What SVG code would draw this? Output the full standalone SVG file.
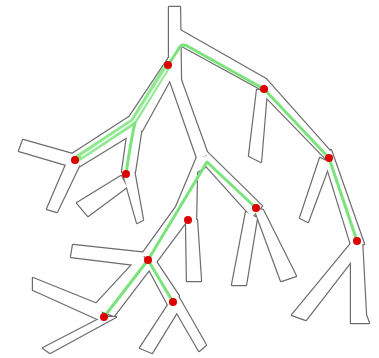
<svg xmlns="http://www.w3.org/2000/svg" xmlns:xlink="http://www.w3.org/1999/xlink" width="379" height="358" viewBox="0 0 379 358">
  <style>
    .rim { fill: none; stroke: #6c6c6c; stroke-width: 2.4; stroke-linejoin: round; }
    .body { fill: #ffffff; stroke: none; }
    .path { fill: none; stroke: #7be37b; stroke-width: 3; stroke-linecap: round; stroke-linejoin: round; }
    .path-wide { fill: none; stroke: #8fe88f; stroke-width: 7; stroke-linecap: round; stroke-linejoin: round; }
    .path-core { fill: none; stroke: #e4fae4; stroke-width: 2; stroke-linecap: round; stroke-linejoin: round; }
    .dot { fill: #dc0000; }
  </style>
  <defs>
    <!-- branch segments; drawn twice (rim, then body) so only the outer contour stays visible -->
    <g id="branches">
      <polygon points="169,7 180,7 181,82 169,80"/>
      <polygon points="180,30 266,79 264,91 180,45"/>
      <polygon points="266,79 331,152 327,160 261,92"/>
      <polygon points="331,150 364,244 351,245 325,161"/>
      <polygon points="257,90 267,90 261,162 249,156"/>
      <polygon points="320,158 330,163 308,222 300,218"/>
      <polygon points="351,243 362,240 366,315 369,323 351,323"/>
      <polygon points="353,241 360,250 306,320 292,315"/>
      <polygon points="170,56 180,62 142,131 128,119"/>
      <polygon points="129,117 142,128 80,166 72,154"/>
      <polygon points="76,155 23,140 19,151 70,166"/>
      <polygon points="68,160 80,164 57,212 47,209"/>
      <polygon points="129,122 142,126 135,172 122,172"/>
      <polygon points="122,170 134,170 143,220 137,223"/>
      <polygon points="121,176 127,187 88,216 77,203"/>
      <polygon points="169,78 181,80 208,155 197,158"/>
      <polygon points="197,157 207,156 207,166 197,172 196,222 186,222 154,265 142,254 176,207"/>
      <polygon points="207,152 262,206 252,217 207,167"/>
      <polygon points="186,220 197,220 201,281 187,281"/>
      <polygon points="246,212 257,218 246,285 232,285"/>
      <polygon points="254,208 263,210 296,276 281,281"/>
      <polygon points="147,253 73,245 71,257 136,265"/>
      <polygon points="141,255 153,265 114,316 92,308"/>
      <polygon points="100,305 33,278 33,290 104,322"/>
      <polygon points="103,317 116,317 50,353 43,348"/>
      <polygon points="145,262 155,260 179,296 168,305"/>
      <polygon points="170,302 179,309 152,353 140,348"/>
      <polygon points="170,300 178,296 206,345 199,351 177,313"/>
    </g>
  </defs>

  <g id="tree">
    <use xlink:href="#branches" class="rim"/>
    <use xlink:href="#branches" class="body"/>
  </g>

  <g id="connectors">
    <path class="path-wide" d="M168,65 L133,122 L75,160"/>
    <path class="path-core" d="M166,70 L134,121 L82,156"/>
    <path class="path" d="M357,241 L329,158 L264,89 L189,47 Q181,42 178,50 L168,65"/>
    <path class="path" d="M135,123 Q131,140 126,174"/>
    <path class="path" d="M256,208 L207,162 L148,260 L104,317"/>
    <path class="path" d="M148,260 L173,302"/>
  </g>

  <g id="n1"><circle class="dot" cx="168" cy="65" r="4"/></g>
  <g id="n2"><circle class="dot" cx="264" cy="89" r="4"/></g>
  <g id="n3"><circle class="dot" cx="75" cy="160" r="4"/></g>
  <g id="n4"><circle class="dot" cx="126" cy="174" r="4"/></g>
  <g id="n5"><circle class="dot" cx="329" cy="158" r="4"/></g>
  <g id="n6"><circle class="dot" cx="188" cy="220" r="4"/></g>
  <g id="n7"><circle class="dot" cx="256" cy="208" r="4"/></g>
  <g id="n8"><circle class="dot" cx="357" cy="241" r="4"/></g>
  <g id="n9"><circle class="dot" cx="148" cy="260" r="4"/></g>
  <g id="n10"><circle class="dot" cx="173" cy="302" r="4"/></g>
  <g id="n11"><circle class="dot" cx="104" cy="317" r="4"/></g>
</svg>
